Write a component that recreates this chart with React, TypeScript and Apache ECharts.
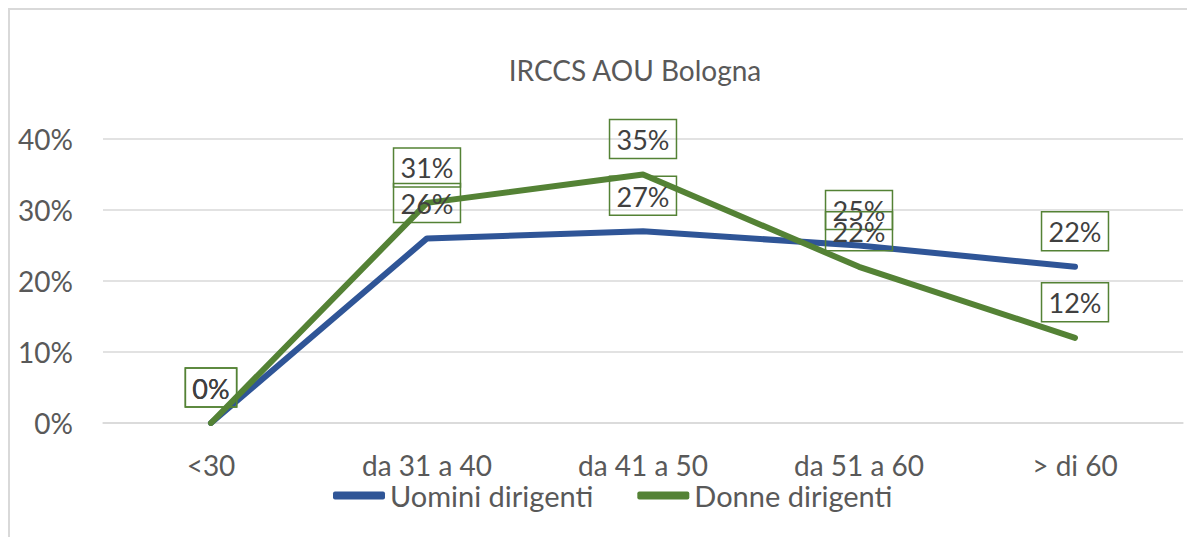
import React, { useEffect, useRef } from "react";
import * as echarts from "echarts";

const categories = ["<30", "da 31 a 40", "da 41 a 50", "da 51 a 60", "> di 60"];
const uominiValues = [0, 26, 27, 25, 22];
const donneValues = [0, 31, 35, 22, 12];
const seriesNames = ["Uomini dirigenti", "Donne dirigenti"];
const seriesColors = ["#2F5597", "#548235"];
const yTicks = [0, 10, 20, 30, 40];

const FONT = "Lato, 'Open Sans', sans-serif";
const TEXT = "#595959";
const FS = 28;

export default function App() {
  const ref = useRef<HTMLDivElement>(null);
  useEffect(() => {
    if (!ref.current) return;
    const chart = echarts.init(ref.current, null, { renderer: "svg" });
    const label = {
      show: true,
      position: "top",
      distance: 16,
      formatter: (p: any) => p.value + "%",
      color: "#404040",
      fontSize: 27,
      lineHeight: 28,
      fontFamily: FONT,
      borderColor: "#548235",
      borderWidth: 1.5,
      padding: [6, 7, 5, 7],
    };
    const values = [uominiValues, donneValues];
    chart.setOption({
      animation: false,
      title: {
        text: "IRCCS AOU Bologna",
        left: 620,
        textAlign: "center",
        top: 41,
        textStyle: { color: TEXT, fontSize: FS, fontWeight: "normal", fontFamily: FONT },
      },
      legend: {
        bottom: 25,
        left: 318,
        itemWidth: 52,
        itemHeight: 8,
        itemGap: 44,
        textStyle: { color: TEXT, fontSize: 29, fontFamily: FONT },
        data: seriesNames.map((n, i) => ({
          name: n,
          icon: "roundRect",
          itemStyle: { color: seriesColors[i], opacity: 1 },
        })),
      },
      grid: { left: 93, right: 17, top: 129, bottom: 117 },
      xAxis: {
        type: "category",
        data: categories,
        boundaryGap: true,
        axisLine: { lineStyle: { color: "#d9d9d9", width: 1.5 } },
        axisTick: { show: false },
        axisLabel: { color: TEXT, fontSize: FS, fontFamily: FONT, margin: 28 },
      },
      yAxis: {
        type: "value",
        min: yTicks[0],
        max: yTicks[yTicks.length - 1],
        interval: 10,
        axisLine: { show: false },
        axisTick: { show: false },
        axisLabel: { color: TEXT, fontSize: FS, fontFamily: FONT, margin: 30, formatter: "{value}%" },
        splitLine: { lineStyle: { color: "#d9d9d9", width: 1.5 } },
      },
      series: seriesNames.map((name, i) => ({
        name,
        type: "line",
        data: values[i],
        symbol: "circle",
        symbolSize: 0,
        showSymbol: true,
        lineStyle: { color: seriesColors[i], width: 6, cap: "round", join: "round" },
        itemStyle: { color: seriesColors[i] },
        label,
        labelLayout: { hideOverlap: false },
      })),
    });
    return () => chart.dispose();
  }, []);
  return (
    <div
      ref={ref}
      style={{
        width: 1190,
        height: 530,
        border: "2px solid #d9d9d9",
        borderRight: "none",
        borderBottom: "none",
        background: "#fff",
      }}
    />
  );
}
